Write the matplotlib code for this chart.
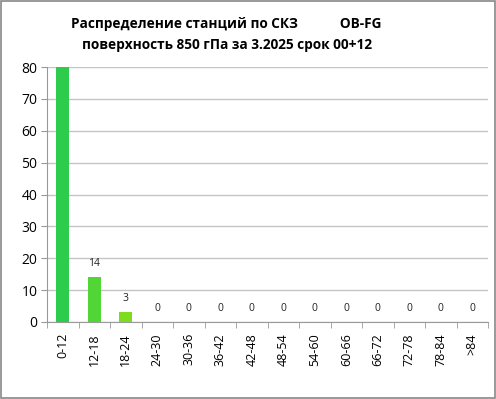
import matplotlib.pyplot as plt
import numpy as np

categories = ['0-12', '12-18', '18-24', '24-30', '30-36', '36-42', '42-48',
              '48-54', '54-60', '60-66', '66-72', '72-78', '78-84', '>84']
counts = [86, 14, 3, 0, 0, 0, 0, 0, 0, 0, 0, 0, 0, 0]
colors = ['#2ecc4c', '#52d636', '#7ddc1e'] + ['#7ddc1e'] * 11

plt.rcParams['font.family'] = ['Open Sans', 'DejaVu Sans']

fig = plt.figure(figsize=(4.96, 3.99), dpi=100)
ax = fig.add_axes([0.095, 0.193, 0.889, 0.639])

x = np.arange(len(categories))
ax.bar(x, counts, width=0.42, color=colors, zorder=3)

for xi, v in zip(x, counts):
    if v <= 80:
        ax.text(xi, v + 2.5, str(v), ha='center', va='bottom', fontsize=7.5, color='#222222')

ax.set_ylim(0, 80)
ax.set_xlim(-0.5, len(categories) - 0.5)
ax.set_yticks(range(0, 81, 10))
ax.tick_params(axis='y', length=4, color='#999999', labelsize=10, pad=3)
ax.yaxis.grid(True, color='#c4c4c4', linewidth=1, zorder=0)

ax.set_xticks(x)
ax.set_xticklabels(categories, rotation=90, fontsize=9)
ax.tick_params(axis='x', length=0, pad=8)
ax.set_xticks(np.arange(-0.5, len(categories), 1), minor=True)
ax.tick_params(axis='x', which='minor', length=4, color='#999999', direction='out')

for s in ['top', 'right']:
    ax.spines[s].set_visible(False)
for s in ['left', 'bottom']:
    ax.spines[s].set_color('#999999')

fig.text(0.456, 0.94, 'Распределение станций по СКЗ            OB-FG',
         ha='center', va='center', fontsize=9.8, fontweight='bold')
fig.text(0.458, 0.888, 'поверхность 850 гПа за 3.2025 срок 00+12',
         ha='center', va='center', fontsize=9.8, fontweight='bold')

fig.patches.append(plt.Rectangle((0.002, 0.002), 0.996, 0.996, transform=fig.transFigure,
                                 fill=False, edgecolor='#888888', linewidth=1.2))

fig.savefig('out.png', dpi=100)
